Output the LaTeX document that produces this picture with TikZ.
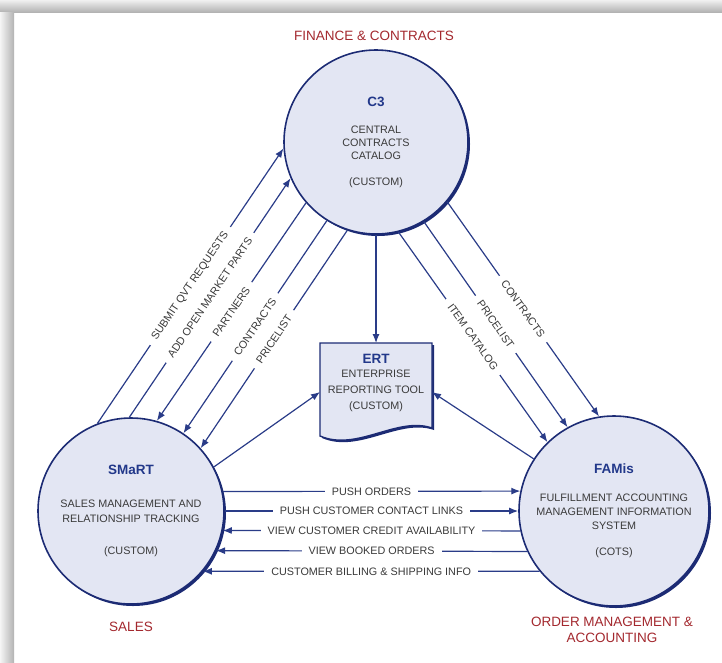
\documentclass[tikz,border=0pt]{standalone}
\usepackage{fontspec}
\setmainfont{Liberation Sans}
\usepackage{tikz}
\usetikzlibrary{arrows.meta, shadows, backgrounds}
\definecolor{navy}{HTML}{1C2B74}
\definecolor{wire}{HTML}{2A3C88}
\definecolor{pale}{HTML}{E3E6F3}
\definecolor{heading}{HTML}{22388A}
\definecolor{ink}{HTML}{3A3A3A}
\definecolor{unitred}{HTML}{A3282E}
\newcommand{\titlefont}{\fontsize{13.5}{15}\selectfont\bfseries\color{heading}}
\tikzstyle{system} = [circle, draw=navy, line width=1.6pt, fill=pale, text=ink,
    align=center, inner sep=0pt,
    drop shadow={shadow xshift=2pt, shadow yshift=-2pt, fill=navy, opacity=1}]
\tikzstyle{line} = [draw=wire, line width=1.2pt, -{Latex[length=9pt,width=7pt]}]
\tikzstyle{flowlabel} = [fill=white, inner xsep=7pt, inner ysep=1pt, text=ink,
    font=\fontsize{10.8}{13}\selectfont]
\tikzstyle{orgname} = [text=unitred, align=center, font=\fontsize{13.5}{16}\selectfont]

\begin{document}
\begin{tikzpicture}[x=1pt, y=-1pt]
                \useasboundingbox (0,0) rectangle (722,662);
                \shade[top color=gray!12, bottom color=gray!60] (0,0) rectangle (722,12);
                \shade[left color=gray!8, right color=gray!60] (0,12) rectangle (14,662);

                \node [system, minimum size=184pt, font=\fontsize{10.8}{13}\selectfont] at (376,142) (c3)
                    {{\titlefont C3}\\[14pt]CENTRAL\\CONTRACTS\\CATALOG\\[13pt](CUSTOM)};
                \node [system, minimum size=186pt, font=\fontsize{10.8}{15}\selectfont] at (131,511) (smart)
                    {{\titlefont SMaRT}\\[18pt]SALES MANAGEMENT AND\\RELATIONSHIP TRACKING\\[17pt](CUSTOM)};
                \node [system, minimum size=190pt, font=\fontsize{10.8}{14}\selectfont] at (614,511) (famis)
                    {{\titlefont FAMis}\\[14pt]FULFILLMENT ACCOUNTING\\MANAGEMENT INFORMATION\\SYSTEM\\[12pt](COTS)};
                \node [align=center, text=ink, inner sep=0pt, outer sep=0pt, minimum width=112pt,
                    minimum height=79pt, font=\fontsize{10.8}{16}\selectfont] at (376,382.5) (ert)
                    {{\titlefont ERT}\\[-2pt]ENTERPRISE\\REPORTING TOOL\\(CUSTOM)};
                \begin{scope}[on background layer]
                    \filldraw [fill=pale, draw=navy, line width=1.4pt,
                        drop shadow={shadow xshift=2pt, shadow yshift=-2pt, fill=navy, opacity=1}]
                        (ert.north west) -- (ert.north east) -- ([yshift=-6pt]ert.south east)
                        .. controls +(-35,-12) and +(37,16) .. ([yshift=-14pt]ert.south west) -- cycle;
                \end{scope}

                \node [orgname] at (374,36) (finance) {FINANCE \& CONTRACTS};
                \node [orgname] at (131,627) (sales) {SALES};
                \node [orgname] at (612,630) (orders) {ORDER MANAGEMENT \&\\ACCOUNTING};

                \path [line] (smart.111) -- node [flowlabel, sloped, midway] {SUBMIT QVT REQUESTS} (c3.184);
                \path [line] (smart.91) -- node [flowlabel, sloped, midway] {ADD OPEN MARKET PARTS} (c3.203);
                \path [line] (c3.221) -- node [flowlabel, sloped, midway] {PARTNERS} (smart.74);
                \path [line] (c3.238) -- node [flowlabel, sloped, midway] {CONTRACTS} (smart.56);
                \path [line] (c3.252) -- node [flowlabel, sloped, midway] {PRICELIST} (smart.42);

                \path [line] (c3.284) -- node [flowlabel, sloped, midway] {ITEM CATALOG} (famis.134);
                \path [line] (c3.301) -- node [flowlabel, sloped, midway] {PRICELIST} (famis.119);
                \path [line] (c3.320) -- node [flowlabel, sloped, midway] {CONTRACTS} (famis.99);

                \path [line] (c3.south) -- (ert.north);
                \path [line] (smart.28) -- ([yshift=-9.5pt]ert.west);
                \path [line] (famis.147) -- ([yshift=-9.5pt]ert.east);

                \path [line] (smart.12) -- node [flowlabel, midway] {PUSH ORDERS} (famis.168);
                \path [line] (smart.0) -- node [flowlabel, midway] {PUSH CUSTOMER CONTACT LINKS} (famis.180);
                \path [line] (famis.192) -- node [flowlabel, midway] {VIEW CUSTOMER CREDIT AVAILABILITY} (smart.-12);
                \path [line] (famis.205) -- node [flowlabel, midway] {VIEW BOOKED ORDERS} (smart.-25);
                \path [line] (famis.219) -- node [flowlabel, midway] {CUSTOMER BILLING \& SHIPPING INFO} (smart.-40);
            \end{tikzpicture}
\end{document}
